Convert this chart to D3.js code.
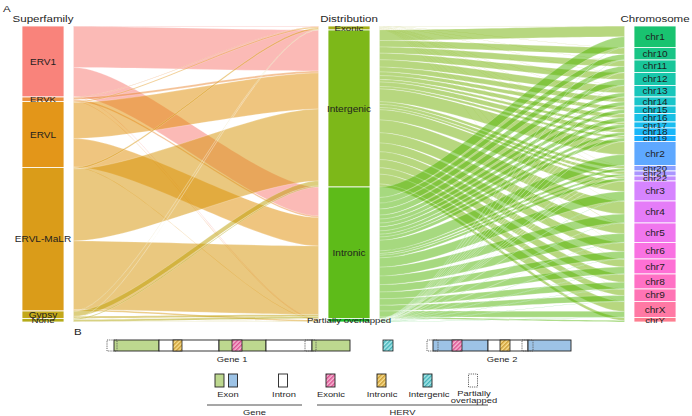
<!DOCTYPE html>
<html>
<head>
<meta charset="utf-8">
<script src="https://cdn.jsdelivr.net/npm/d3@7"></script>
<style>
  body { margin: 0; background: #fff; }
  svg { display: block; font-family: "Liberation Sans", Arial, sans-serif; }
</style>
</head>
<body>
<svg id="chart" width="692" height="416"></svg>
<script>
// ---- data (counts x10) ----
const axes = ["Superfamily", "Distribution", "Chromosome"];
const superfamilies = ["ERV1", "ERVK", "ERVL", "ERVL-MaLR", "Gypsy", "None"];
const distributions = ["Exonic", "Intergenic", "Intronic", "Partially overlapped"];
const chromosomes = ["chr1", "chr10", "chr11", "chr12", "chr13", "chr14", "chr15", "chr16",
  "chr17", "chr18", "chr19", "chr2", "chr20", "chr21", "chr22", "chr3", "chr4", "chr5",
  "chr6", "chr7", "chr8", "chr9", "chrX", "chrY"];

// superfamily rows x distribution columns
const famDist = [
  [5, 410, 290, 5],
  [5, 20, 15, 5],
  [10, 360, 285, 5],
  [15, 720, 685, 15],
  [3, 50, 20, 2],
  [2, 10, 20, 3]
];
// chromosome rows x distribution columns
const chrDist = [
  [3, 105, 105, 2], [2, 65, 56, 2], [2, 62, 60, 1], [2, 66, 60, 2],
  [1, 73, 40, 1], [1, 48, 40, 1], [1, 37, 36, 1], [2, 40, 42, 1],
  [2, 24, 33, 1], [1, 45, 28, 1], [2, 24, 33, 1], [3, 128, 107, 2],
  [1, 28, 25, 1], [1, 30, 18, 1], [1, 22, 26, 1], [3, 102, 93, 2],
  [2, 128, 88, 2], [3, 103, 87, 2], [2, 88, 73, 2], [2, 78, 68, 2],
  [1, 82, 65, 2], [1, 64, 58, 2], [1, 98, 59, 2], [0, 30, 15, 0]
];

// panel B: schematic genes in arbitrary genomic units
const gene1Parts = [["exon", 28, 118], ["intron", 118, 238], ["exon", 238, 332], ["intron", 332, 424], ["exon", 424, 500]];
const gene2Parts = [["exon", 666, 776], ["intron", 776, 856], ["exon", 856, 942]];
const hervSites = [["partial", 14, 34], ["intronic", 146, 164], ["exonic", 264, 284], ["partial", 410, 432],
  ["intergenic", 566, 586], ["partial", 654, 676], ["exonic", 704, 724], ["intronic", 800, 820], ["partial", 844, 866]];
const geneNames = ["Gene 1", "Gene 2"];
const legendLabels = ["Exon", "Intron", "Exonic", "Intronic", "Intergenic", "Partially overlapped"];
const groupLabels = ["Gene", "HERV"];

// ---- colours: ggplot-like hue palette (polar LUV) ----
function hclColor(h, c = 100, l = 65) {
  const hr = h * Math.PI / 180;
  const u = c * Math.cos(hr), v = c * Math.sin(hr);
  const Xn = 95.047, Yn = 100, Zn = 108.883;
  const den = Xn + 15 * Yn + 3 * Zn;
  const un = 4 * Xn / den, vn = 9 * Yn / den;
  const Y = Yn * Math.pow((l + 16) / 116, 3);
  const up = u / (13 * l) + un, vp = v / (13 * l) + vn;
  const X = Y * 9 * up / (4 * vp);
  const Z = Y * (12 - 3 * up - 20 * vp) / (4 * vp);
  const x = X / 100, y = Y / 100, z = Z / 100;
  const lin = [
    3.2404542 * x - 1.5371385 * y - 0.4985314 * z,
    -0.9692660 * x + 1.8760108 * y + 0.0415560 * z,
    0.0556434 * x - 0.2040259 * y + 1.0572252 * z
  ];
  const g = lin.map(t => {
    const s = t <= 0.0031308 ? 12.92 * t : 1.055 * Math.pow(t, 1 / 2.4) - 0.055;
    return Math.round(Math.max(0, Math.min(1, s)) * 255);
  });
  return d3.rgb(g[0], g[1], g[2]).formatHex();
}
const hueStep = 360 / 38;
const hue = i => 15 + i * hueStep;
const famColor = [0, 2, 3, 4, 6, 7].map(i => hclColor(hue(i)));
const distColor = [8, 10, 11, 12].map(i => hclColor(hue(i)));
const chrColor = chromosomes.map((_, i) => hclColor(hue(14 + i)));

// ---- layout ----
const svg = d3.select("#chart");
const textColor = "#1e1e1e";
function label(g, x, y, txt, size, anchor = "middle") {
  return g.append("text")
    .attr("transform", `translate(${x},${y}) scale(1.2,1)`)
    .attr("text-anchor", anchor)
    .attr("font-size", size)
    .attr("fill", textColor)
    .text(txt);
}

const axisX = d3.scalePoint().domain(axes).range([43, 655]);
const boxHalf = 21, flowOff = 30.5;

const famTotals = famDist.map(r => d3.sum(r));
const distTotals = distributions.map((_, j) => d3.sum(famDist, r => r[j]));
const chrTotals = chrDist.map(r => d3.sum(r));
const total = d3.sum(famTotals);
const y = d3.scaleLinear().domain([0, total]).range([26, 322]);

const starts = arr => arr.map((_, i) => d3.sum(arr.slice(0, i)));
const famStart = starts(famTotals), distStart = starts(distTotals), chrStart = starts(chrTotals);

function ribbon(x0, x1, s0, s1, t0, t1) {
  const k = (x1 - x0) / 4;
  return `M${x0},${s0}C${x0 + k},${s0} ${x1 - k},${t0} ${x1},${t0}` +
    `L${x1},${t1}C${x1 - k},${t1} ${x0 + k},${s1} ${x0},${s1}Z`;
}

// left flows: superfamily -> distribution
const leftFlows = [];
famDist.forEach((row, i) => row.forEach((v, j) => {
  if (!v) return;
  const s = famStart[i] + d3.sum(row.slice(0, j));
  const t = distStart[j] + d3.sum(famDist.slice(0, i), r => r[j]);
  leftFlows.push({ v, s, t, color: famColor[i] });
}));
// right flows: distribution -> chromosome
const rightFlows = [];
distributions.forEach((_, j) => chrDist.forEach((row, k) => {
  const v = row[j];
  if (!v) return;
  const s = distStart[j] + d3.sum(chrDist.slice(0, k), r => r[j]);
  const t = chrStart[k] + d3.sum(row.slice(0, j));
  rightFlows.push({ v, s, t, color: distColor[j] });
}));

const gA = svg.append("g");
const drawFlows = (flows, x0, x1) => gA.append("g").selectAll("path")
  .data(flows).join("path")
  .attr("d", d => ribbon(x0, x1, y(d.s), y(d.s + d.v), y(d.t), y(d.t + d.v)))
  .attr("fill", d => d.color)
  .attr("fill-opacity", 0.5)
  .attr("stroke", "#fff")
  .attr("stroke-opacity", 0.6)
  .attr("stroke-width", 0.35);

drawFlows(leftFlows, axisX("Superfamily") + flowOff, axisX("Distribution") - flowOff);
drawFlows(rightFlows, axisX("Distribution") + flowOff, axisX("Chromosome") - flowOff);

function drawStrata(axis, names, totals, startArr, colors) {
  const cx = axisX(axis);
  const g = gA.append("g");
  g.selectAll("rect").data(names).join("rect")
    .attr("x", cx - boxHalf).attr("width", boxHalf * 2)
    .attr("y", (d, i) => y(startArr[i]))
    .attr("height", (d, i) => y(startArr[i] + totals[i]) - y(startArr[i]))
    .attr("fill", (d, i) => colors[i])
    .attr("fill-opacity", 0.9)
    .attr("stroke", "#fff").attr("stroke-width", 0.8);
  names.forEach((n, i) => {
    const h = y(startArr[i] + totals[i]) - y(startArr[i]);
    const mid = y(startArr[i] + totals[i] / 2);
    const size = h < 6.5 ? 8 : 8.4;
    label(g, cx, mid + size * 0.36, n, size);
  });
  label(g, cx, 22, axis, 9.6);
}
drawStrata("Superfamily", superfamilies, famTotals, famStart, famColor);
drawStrata("Distribution", distributions, distTotals, distStart, distColor);
drawStrata("Chromosome", chromosomes, chrTotals, chrStart, chrColor);

label(svg, 3, 12, "A", 9.6, "start");
label(svg, 74, 335, "B", 9.6, "start");

// ---- panel B ----
const defs = svg.append("defs");
function hatch(id, bg, fg) {
  const p = defs.append("pattern").attr("id", id)
    .attr("patternUnits", "userSpaceOnUse").attr("width", 3).attr("height", 3)
    .attr("patternTransform", "rotate(45)");
  p.append("rect").attr("width", 3).attr("height", 3).attr("fill", bg);
  p.append("line").attr("x1", 0.75).attr("y1", 0).attr("x2", 0.75).attr("y2", 3)
    .attr("stroke", fg).attr("stroke-width", 1.3);
}
hatch("h-exonic", "#f6b8d3", "#d9468a");
hatch("h-intronic", "#f8dd8e", "#c8962a");
hatch("h-intergenic", "#ace8ea", "#35acb3");
const siteFill = { exonic: "url(#h-exonic)", intronic: "url(#h-intronic)", intergenic: "url(#h-intergenic)", partial: "none" };
const exonFill = ["#bdd88f", "#9dc3e6"];

const gx = d3.scaleLinear().domain([0, 1000]).range([100, 600]);
const gB = svg.append("g");
const rowTop = 340, rowH = 11;

[gene1Parts, gene2Parts].forEach((parts, gi) => {
  gB.append("g").selectAll("rect").data(parts).join("rect")
    .attr("x", d => gx(d[1])).attr("width", d => gx(d[2]) - gx(d[1]))
    .attr("y", rowTop).attr("height", rowH)
    .attr("fill", d => d[0] === "exon" ? exonFill[gi] : "#fff")
    .attr("stroke", "#222").attr("stroke-width", 0.9);
  const mid = (parts[0][1] + parts[parts.length - 1][2]) / 2;
  label(gB, gx(mid), 362, geneNames[gi], 7.8);
});

gB.append("g").selectAll("rect").data(hervSites).join("rect")
  .attr("x", d => gx(d[1])).attr("width", d => gx(d[2]) - gx(d[1]))
  .attr("y", rowTop).attr("height", rowH)
  .attr("fill", d => siteFill[d[0]])
  .attr("stroke", d => d[0] === "partial" ? "#555" : "#222")
  .attr("stroke-width", d => d[0] === "partial" ? 0.9 : 0.8)
  .attr("stroke-dasharray", d => d[0] === "partial" ? "1.2,1" : null);

// legend
const legRow = 374, legH = 13, legW = 9;
const legendKeys = [
  { fills: [exonFill[0], exonFill[1]], xs: [215, 228.5], lx: 228 },
  { fills: ["#fff"], xs: [278.5], lx: 284 },
  { fills: [siteFill.exonic], xs: [326], lx: 331 },
  { fills: [siteFill.intronic], xs: [377], lx: 382 },
  { fills: [siteFill.intergenic], xs: [423], lx: 429 },
  { fills: ["none"], xs: [468.5], lx: 474, dashed: true }
];
legendKeys.forEach((k, i) => {
  k.fills.forEach((f, j) => {
    gB.append("rect").attr("x", k.xs[j]).attr("y", legRow)
      .attr("width", legW).attr("height", legH)
      .attr("fill", f)
      .attr("stroke", k.dashed ? "#555" : "#222").attr("stroke-width", 0.9)
      .attr("stroke-dasharray", k.dashed ? "1.2,1" : null);
  });
  const words = legendLabels[i].split(" ");
  words.forEach((w, wi) => label(gB, k.lx, 397 + wi * 6.5 - (words.length > 1 ? 1 : 0), w, 7.8));
});
[[207, 302], [317, 488]].forEach((r, i) => {
  gB.append("line").attr("x1", r[0]).attr("x2", r[1]).attr("y1", 405).attr("y2", 405)
    .attr("stroke", "#222").attr("stroke-width", 0.8);
  label(gB, (r[0] + r[1]) / 2, 415, groupLabels[i], 7.8);
});
</script>
</body>
</html>
